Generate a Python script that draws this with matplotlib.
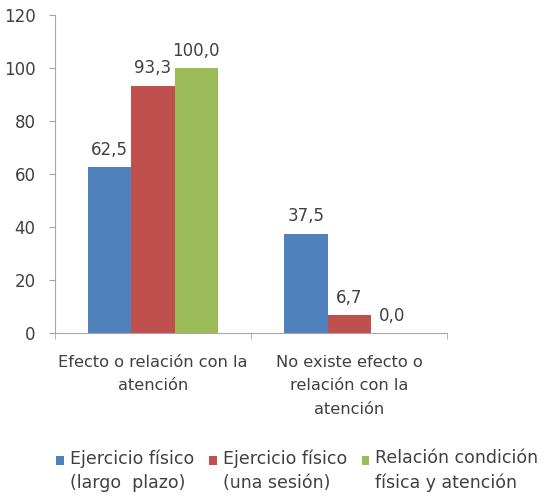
import matplotlib
matplotlib.use("Agg")
import matplotlib.pyplot as plt
from matplotlib.patches import Patch, Rectangle
from matplotlib.legend_handler import HandlerPatch
import numpy as np

categories = ["Efecto o relación con la\natención", "No existe efecto o\nrelación con la\natención"]
series_names = ["Ejercicio físico\n(largo  plazo)", "Ejercicio físico\n(una sesión)", "Relación condición\nfísica y atención"]
largo_plazo = [62.5, 37.5]
una_sesion = [93.3, 6.7]
condicion = [100.0, 0.0]
colors = ["#4F81BD", "#C0504D", "#9BBB59"]

plt.rcParams['font.family'] = ['DejaVu Sans']
txt = "#404040"
fs = 12

fig = plt.figure(figsize=(5.44, 4.97), dpi=100)
ax = fig.add_axes([0.101, 0.330, 0.721, 0.640])

x = np.arange(len(categories))
w = 0.22
for i, (vals, c) in enumerate(zip([largo_plazo, una_sesion, condicion], colors)):
    bars = ax.bar(x + (i - 1) * w, vals, width=w, color=c, edgecolor='none')
    for b, v in zip(bars, vals):
        ax.annotate(f"{v:.1f}".replace(".", ","), (b.get_x() + b.get_width() / 2, v),
                    xytext=(0, 12.5), textcoords="offset points", ha="center", va="center",
                    fontsize=fs, color=txt)

ax.set_xlim(-0.5, 1.5)
ax.set_ylim(0, 120)
ax.set_yticks(np.arange(0, 121, 20))
ax.set_xticks(x)
ax.set_xticklabels(categories, fontsize=11.7, color=txt, linespacing=1.68)
ax.set_xticks([-0.5, 0.5, 1.5], minor=True)
ax.tick_params(axis='x', which='major', length=0, pad=16)
ax.tick_params(axis='x', which='minor', length=4, color="#A6A6A6")
ax.tick_params(axis='y', length=4, color="#A6A6A6", labelsize=fs, labelcolor=txt, pad=10)
for s in ['top', 'right']:
    ax.spines[s].set_visible(False)
for s in ['left', 'bottom']:
    ax.spines[s].set_color("#A6A6A6")


def top_square(legend, orig_handle, xdescent, ydescent, width, height, fontsize):
    return Rectangle((-xdescent, -ydescent + 8.0), width, height)


handles = [Patch(facecolor=c, edgecolor='none') for c in colors]
leg = fig.legend(handles, series_names, loc='lower left', bbox_to_anchor=(0.093, 0.0), ncol=3,
                 frameon=False, fontsize=12.5, handlelength=0.45, handleheight=0.45,
                 handletextpad=0.35, columnspacing=0.85, labelcolor=txt, borderpad=0.1,
                 borderaxespad=0.2,
                 handler_map={Patch: HandlerPatch(patch_func=top_square)})
for t in leg.get_texts():
    t.set_linespacing(1.4)

fig.savefig("out.png", dpi=100, facecolor="white")
